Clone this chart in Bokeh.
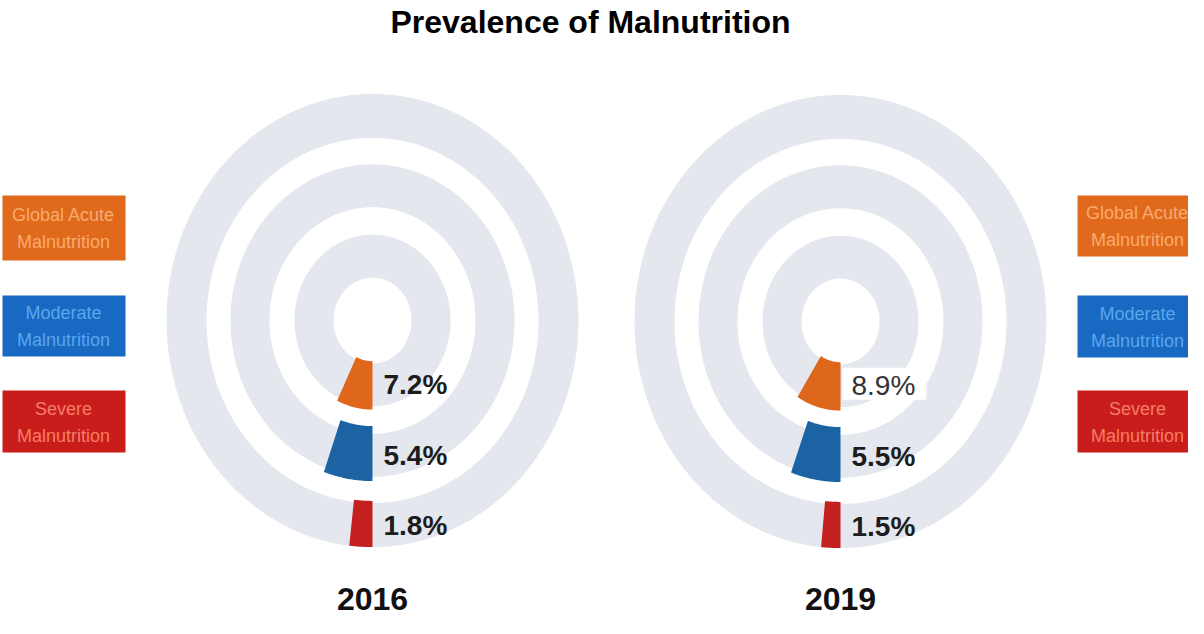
import numpy as np
from bokeh.plotting import figure
from bokeh.models import Range1d
from bokeh.core.properties import value
from bokeh.embed import file_html
from bokeh.resources import INLINE

# ---------------- data ----------------
title = "Prevalence of Malnutrition"
categories = ["Global Acute Malnutrition", "Moderate Malnutrition", "Severe Malnutrition"]
legend_lines = [["Global Acute", "Malnutrition"], ["Moderate", "Malnutrition"], ["Severe", "Malnutrition"]]
years = ["2016", "2019"]
values_2016 = [7.2, 5.4, 1.8]
values_2019 = [8.9, 5.5, 1.5]

# ---------------- style / layout ----------------
seg_colors = ["#df671c", "#1b63a3", "#c4201f"]
box_colors = ["#e0691c", "#1769c2", "#c91d1c"]
box_text_colors = ["#f7ab70", "#5aa6ee", "#f47d66"]
band_color = "#e4e7ed"
FONT = value("Liberation Sans")

W, H = 1188, 618
p = figure(width=W, height=H, x_range=Range1d(8, 8 + W), y_range=Range1d(8 + H, 8),
           output_backend="svg", toolbar_location=None, min_border=0,
           x_axis_location=None, y_axis_location=None, tools="")
p.grid.visible = False
p.outline_line_color = None
p.background_fill_color = "white"
p.border_fill_color = "white"

centers = [(380, 328), (848, 329)]
bands = [(39, 78), (103, 142), (166, 206)]       # horizontal radii (px), inner->outer
seg_bands = [(37, 81), (96, 146), (164, 206)]    # coloured segments slightly thicker
RY = 1.1                                           # vertical stretch of the rings


def arc(cx, cy, rx, ry, t0, t1, n=120):
    t = np.linspace(t0, t1, n)
    return cx - rx * np.sin(t), cy + ry * np.cos(t)


# gray bands
bx, by = [], []
for cx, cy in centers:
    for rin, rout in bands:
        ox, oy = arc(cx, cy, rout, rout * RY, 0, 2 * np.pi, 240)
        ix, iy = arc(cx, cy, rin, rin * RY, 2 * np.pi, 0, 240)
        bx.append([[list(ox), list(ix)]])
        by.append([[list(oy), list(iy)]])
p.multi_polygons(xs=bx, ys=by, fill_color=band_color, line_color=None)

# coloured segments + labels
series = [values_2016, values_2019]
for k, ((cx, cy), vals) in enumerate(zip(centers, series)):
    sx, sy, cols = [], [], []
    for i, v in enumerate(vals):
        rin, rout = seg_bands[i]
        th = 2 * np.pi * v / 100.0
        ox, oy = arc(cx, cy, rout, rout * RY, 0, th, 40)
        ix, iy = arc(cx, cy, rin, rin * RY, th, 0, 40)
        sx.append(list(ox) + list(ix))
        sy.append(list(oy) + list(iy))
        cols.append(seg_colors[i])
    p.patches(xs=sx, ys=sy, fill_color=cols, line_color=None)

    lx = [cx + 11] * 3
    ly = [cy + RY * (b[0] + b[1]) / 2 for b in bands]
    texts = [f"{v}%" for v in vals]
    if k == 1:
        # pasted-in label on a white patch in the original
        p.quad(left=[cx + 2], right=[cx + 86], top=[ly[0] - 18], bottom=[ly[0] + 14],
               fill_color="white", line_color=None)
        p.text(x=[lx[0]], y=[ly[0]], text=[texts[0]], text_font=FONT,
               text_font_size="28px", text_font_style="normal", text_color="#333333",
               text_align="left", text_baseline="middle")
        p.text(x=lx[1:], y=ly[1:], text=texts[1:], text_font=FONT,
               text_font_size="28px", text_font_style="bold", text_color="#1c1c1c",
               text_align="left", text_baseline="middle")
    else:
        p.text(x=lx, y=ly, text=texts, text_font=FONT,
               text_font_size="28px", text_font_style="bold", text_color="#1c1c1c",
               text_align="left", text_baseline="middle")

# year labels
p.text(x=[c[0] for c in centers], y=[606, 606], text=years, text_font=FONT,
       text_font_size="32px", text_font_style="bold", text_color="#111111",
       text_align="center", text_baseline="middle")

# title
p.text(x=[598], y=[29], text=[title], text_font=FONT, text_font_size="32px",
       text_font_style="bold", text_color="#000000", text_align="center",
       text_baseline="middle")

# legend boxes (left and right)
tops_l = [203, 303, 398]
bots_l = [268, 364, 460]
tops_r = [203, 303, 398]
bots_r = [264, 365, 460]
p.quad(left=[10] * 3, right=[133] * 3, top=tops_l, bottom=bots_l,
       fill_color=box_colors, line_color=None)
p.quad(left=[1085] * 3, right=[1215] * 3, top=tops_r, bottom=bots_r,
       fill_color=box_colors, line_color=None)

for xc, tops, bots in [(71, tops_l, bots_l), (1145, tops_r, bots_r)]:
    tx, ty, tt, tc = [], [], [], []
    for i, lines in enumerate(legend_lines):
        mid = (tops[i] + bots[i]) / 2
        for j, line in enumerate(lines):
            tx.append(xc)
            ty.append(mid - 13 + 27 * j)
            tt.append(line)
            tc.append(box_text_colors[i])
    p.text(x=tx, y=ty, text=tt, text_color=tc, text_font=FONT,
           text_font_size="18px", text_align="center", text_baseline="middle")

open("out.html", "w").write(file_html(p, INLINE))
